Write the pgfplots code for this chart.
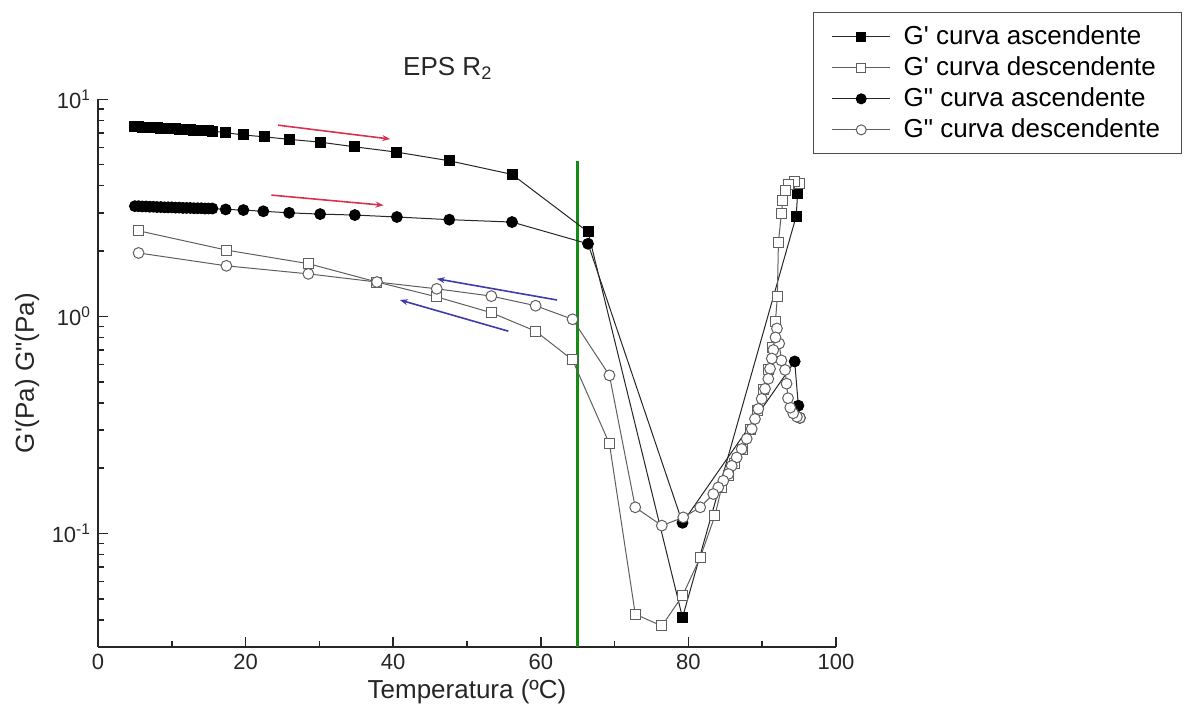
\documentclass[border=0pt]{standalone}
\usepackage{fontspec}
\setmainfont{Liberation Sans}
\usepackage{pgfplots}
\pgfplotsset{compat=1.18}
\usetikzlibrary{arrows.meta}
\definecolor{grnline}{RGB}{20,140,20}
\definecolor{arrred}{RGB}{215,50,80}
\definecolor{arrblue}{RGB}{60,60,170}
\definecolor{hollowc}{RGB}{95,95,95}
\newcommand{\Gp}{G\textquotesingle}
\newcommand{\Gpp}{G\textquotedbl}
\begin{document}
\begin{tikzpicture}
\begin{axis}[
  at={(0,0)}, anchor=south west,
  scale only axis, width=369pt, height=273.85pt,
  xmin=0, xmax=100, ymin=0.03, ymax=10,
  ymode=log,
  axis x line=bottom, axis y line=left,
  axis line style={-, line width=1pt, black!85},
  tick align=inside,
  major tick length=5pt, minor tick length=3pt,
  tick style={line width=0.8pt, black!85},
  xtick={0,20,40,60,80,100},
  xticklabels={0,20,40,60,80,100},
  minor xtick={10,30,50,70,90},
  ytick={0.1,1,10},
  yticklabels={10\textsuperscript{-1},10\textsuperscript{0},10\textsuperscript{1}},
  minor ytick={0.03,0.04,0.05,0.06,0.07,0.08,0.09,0.2,0.3,0.4,0.5,0.6,0.7,0.8,0.9,2,3,4,5,6,7,8,9},
  tick label style={font=\fontsize{11}{13}\selectfont, black!85},
  xlabel={Temperatura (ºC)},
  ylabel={\Gp(Pa) \Gpp(Pa)},
  label style={font=\fontsize{13}{15}\selectfont, black!85},
  xlabel style={at={(axis description cs:0.5,-0.082)}, anchor=center},
  ylabel style={at={(axis description cs:-0.096,0.5)}, anchor=center},
  legend style={at={(0.969,1.159)}, anchor=north west,
    font=\fontsize{13}{15.5}\selectfont, draw=black!70, line width=0.6pt,
    inner xsep=9pt, inner ysep=5pt, row sep=1.6pt,
    nodes={inner sep=1.5pt}},
  legend cell align=left,
  legend image code/.code={\draw[mark repeat=2,mark phase=2,#1] plot coordinates {(0pt,0pt) (14.5pt,0pt) (29pt,0pt)}; \path (34pt,0pt);},
  clip=false,
]
% green line
\addplot[grnline, line width=1.6pt, forget plot] coordinates {(65,0.03) (65,5.2)};
% G' ascending
\addplot[black!85, line width=0.5pt, mark=square*, mark size=2.5pt, mark options={fill=black, draw=black}, forget plot] coordinates {
(5.0,7.48) (5.5,7.46) (6.0,7.45) (6.5,7.43) (7.0,7.42) (7.5,7.40) (8.0,7.38) (8.5,7.37)
(9.0,7.35) (9.5,7.34) (10.0,7.32) (10.5,7.30) (11.0,7.29) (11.5,7.27) (12.0,7.25) (12.5,7.24)
(13.0,7.22) (13.5,7.20) (14.0,7.19) (14.5,7.17) (15.0,7.16) (15.5,7.14)
(17.3,7.02) (19.7,6.85) (22.5,6.72) (25.9,6.54) (30.1,6.35) (34.8,6.04) (40.5,5.71)
(47.6,5.21) (56.1,4.51) (66.4,2.45) (79.2,0.041) (94.6,2.89) (94.8,3.68)};
% G'' ascending
\addplot[black!85, line width=0.5pt, mark=*, mark size=2.7pt, mark options={fill=black, draw=black}, forget plot] coordinates {
(5.0,3.22) (5.5,3.22) (6.0,3.21) (6.5,3.21) (7.0,3.20) (7.5,3.20) (8.0,3.19) (8.5,3.19)
(9.0,3.18) (9.5,3.18) (10.0,3.18) (10.5,3.17) (11.0,3.17) (11.5,3.16) (12.0,3.16) (12.5,3.16)
(13.0,3.15) (13.5,3.15) (14.0,3.15) (14.5,3.14) (15.0,3.14) (15.5,3.14)
(17.3,3.11) (19.7,3.09) (22.4,3.05) (25.9,3.00) (30.1,2.96) (34.8,2.93) (40.5,2.87)
(47.6,2.79) (56.1,2.72) (66.4,2.16) (79.2,0.112) (94.4,0.62) (94.9,0.388) (95.1,0.341)};
% G' descending
\addplot[hollowc, line width=0.5pt, mark=square*, mark size=2.5pt, mark options={fill=white, draw=hollowc}, forget plot] coordinates {
(95.1,4.10) (94.4,4.17) (93.6,4.07) (93.1,3.81) (92.8,3.43) (92.6,2.98) (92.2,2.20) (92.05,1.23)
(91.8,0.95) (91.4,0.72) (90.9,0.57) (90.2,0.46) (89.4,0.37) (88.4,0.30) (87.3,0.245) (86.3,0.21)
(85.4,0.185) (84.5,0.163) (83.6,0.121) (81.6,0.0775) (79.2,0.0517) (76.4,0.0375) (72.8,0.0425)
(69.3,0.259) (64.3,0.63) (59.3,0.855) (53.3,1.04) (45.9,1.23) (37.8,1.44) (28.5,1.75) (17.4,2.02) (5.5,2.48)};
% G'' descending
\addplot[hollowc, line width=0.5pt, mark=*, mark size=2.7pt, mark options={fill=white, draw=hollowc}, forget plot] coordinates {
(95.1,0.341) (94.7,0.345) (94.2,0.358) (93.8,0.38) (93.5,0.42) (93.3,0.49) (93.1,0.567) (92.6,0.627)
(92.3,0.75) (92.0,0.88) (91.8,0.80) (91.5,0.70) (91.3,0.64) (91.06,0.574) (90.83,0.516) (90.38,0.464)
(89.93,0.417) (89.47,0.375) (89.02,0.337) (88.58,0.303) (87.9,0.273) (87.22,0.245) (86.54,0.224)
(85.87,0.205) (85.41,0.188) (84.73,0.175) (84.05,0.163) (83.37,0.152) (81.6,0.132) (79.3,0.1186)
(76.4,0.1087) (72.8,0.132) (69.3,0.535) (64.3,0.97) (59.3,1.12) (53.3,1.24) (45.9,1.34) (37.8,1.44)
(28.5,1.57) (17.4,1.71) (5.5,1.96)};
% legend
\addlegendimage{black!85, line width=0.5pt, mark=square*, mark size=2.2pt, mark options={fill=black, draw=black}}
\addlegendentry{\Gp{} curva ascendente}
\addlegendimage{hollowc, line width=0.5pt, mark=square*, mark size=2.2pt, mark options={fill=white, draw=hollowc}}
\addlegendentry{\Gp{} curva descendente}
\addlegendimage{black!85, line width=0.5pt, mark=*, mark size=2.5pt, mark options={fill=black, draw=black}}
\addlegendentry{\Gpp{} curva ascendente}
\addlegendimage{hollowc, line width=0.5pt, mark=*, mark size=2.5pt, mark options={fill=white, draw=hollowc}}
\addlegendentry{\Gpp{} curva descendente}
% arrows
\draw[arrred, line width=0.8pt, -{Stealth[length=4pt,width=3pt]}] (axis cs:24.4,7.6) -- (axis cs:39.6,6.56);
\draw[arrred, line width=0.8pt, -{Stealth[length=4pt,width=3pt]}] (axis cs:23.5,3.62) -- (axis cs:38.7,3.25);
\draw[arrblue, line width=0.8pt, -{Stealth[length=4pt,width=3pt]}] (axis cs:62.2,1.19) -- (axis cs:45.9,1.49);
\draw[arrblue, line width=0.8pt, -{Stealth[length=4pt,width=3pt]}] (axis cs:55.6,0.855) -- (axis cs:40.9,1.19);
% title
\node[font=\fontsize{13}{15}\selectfont, black!85, anchor=base] at (rel axis cs:0.474,1.044) {EPS R\textsubscript{2}};
\end{axis}
\pgfresetboundingbox
\path[use as bounding box] (-49pt,-37.5pt) rectangle (545.5pt,323.5pt);
\end{tikzpicture}
\end{document}
